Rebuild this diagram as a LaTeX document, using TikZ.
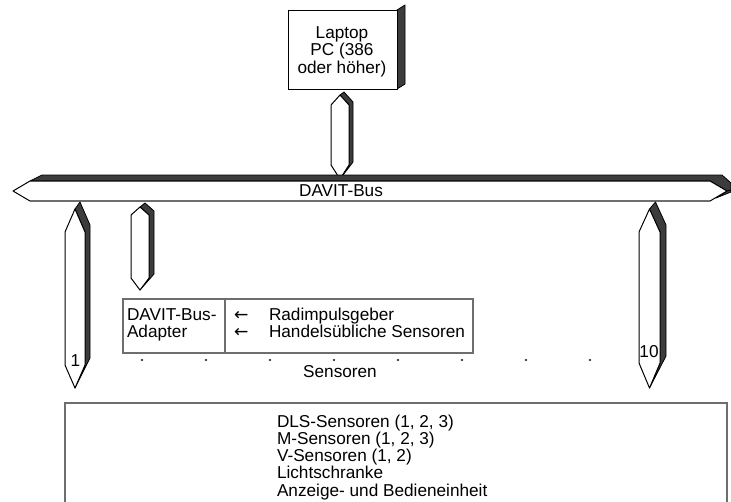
\documentclass[tikz,border=0pt]{standalone}
\usepackage{fontspec}
\setmainfont{Liberation Sans}
\newfontfamily\arrowfont{DejaVu Sans}
\usetikzlibrary{calc}
\definecolor{darkface}{HTML}{3C3C3C}
\definecolor{boxgray}{HTML}{6E6E6E}
\tikzset{
 pxfont/.style={font=\fontsize{12.9}{13.1}\selectfont, inner sep=0pt, outer sep=0pt},
 shade3d/.style={fill=darkface, draw=black, line width=0.6pt, line join=round},
 face3d/.style={fill=white, draw=black, line width=0.75pt, line join=round},
 frame/.style={draw=boxgray, line width=1.2pt},
 lbl/.style={pxfont, anchor=base west},
 ctr/.style={pxfont, anchor=center},
}
% #1 name, #2 xl, #3 xr, #4 ytop, #5 ybot, #6 htop, #7 hbot, #8 dx, #9 dy
\newcommand\pencil[9]{%
 \pgfmathsetmacro\pxc{(#2+#3)/2}%
 \coordinate (#1-A) at (\pxc,#4);
 \coordinate (#1-B) at (#3,#4+#6);
 \coordinate (#1-C) at (#3,#5-#7);
 \coordinate (#1-D) at (\pxc,#5);
 \coordinate (#1-E) at (#2,#5-#7);
 \coordinate (#1-F) at (#2,#4+#6);
 \draw[shade3d] (#1-A) -- ($(#1-A)+(#8,#9)$) -- ($(#1-B)+(#8,#9)$) -- ($(#1-C)+(#8,#9)$) -- (#1-D) -- (#1-C) -- (#1-B) -- cycle;
 \draw[face3d] (#1-A) -- (#1-B) -- (#1-C) -- (#1-D) -- (#1-E) -- (#1-F) -- cycle;
}
\begin{document}
\begin{tikzpicture}[x=0.75pt,y=-0.75pt]
\useasboundingbox (0,0) rectangle (731,501);
% Laptop box
\draw[shade3d] (397,10) -- (405,5) -- (405,84) -- (397,89) -- cycle;
\node[draw=black, line width=0.75pt, fill=white, minimum width=109*0.75pt, minimum height=79*0.75pt, inner sep=0pt, anchor=north west] (laptop) at (288,10) {};
\node[pxfont, align=center] (laptoptext) at (342,51.5) {Laptop\\PC (386\\oder höher)};
% laptop connector
\pencil{pl}{331}{349}{95}{179}{10}{14}{4}{-3}
% Bus
\draw[shade3d] (30,181) -- (42,175) -- (722,175) -- (731,183) -- (731,190) -- (727,191) -- (710,181) -- cycle;
\draw[shade3d] (727,191) -- (731,190) -- (731,192) -- (716,198) -- cycle;
\draw[face3d] (13,191) -- (30,181) -- (710,181) -- (727,191) -- (710,201) -- (30,201) -- cycle;
\draw[boxgray, line width=1.2pt] (30,201) -- (710,201);
\node[ctr] (bus) at (341,191) {DAVIT-Bus};
% sensor connectors
\pencil{p1}{65}{85}{209}{388}{23}{23}{5}{-7}
\pencil{p2}{131}{149}{207}{290}{8}{12}{5}{-4}
\pencil{p10}{639}{660}{209}{388}{23}{25}{6}{-7}
\node[ctr] (n1) at (75.5,361) {1};
\node[ctr] (n10) at (649,352) {10};
% Adapter box
\draw[frame] (123,299) rectangle (473,353);
\draw[frame] (225,299) -- (225,353);
\node[lbl] (ad1) at (127,320) {DAVIT-Bus-};
\node[lbl] (ad2) at (127,337) {Adapter};
\node[lbl] (ar1) at (234,320) {\arrowfont ←};
\node[lbl] (ar2) at (234,337) {\arrowfont ←};
\node[lbl] (rad) at (269,320) {Radimpulsgeber};
\node[lbl] (hand) at (269,337) {Handelsübliche Sensoren};
% dots
\foreach \i in {0,...,7} { \fill (142+64*\i,360) circle (1.1); }
\node[ctr] (sens) at (340,372) {Sensoren};
% bottom box
\draw[frame] (65,520) -- (65,403) -- (727,403) -- (727,520);
\node[lbl] (t1) at (277,427) {DLS-Sensoren (1, 2, 3)};
\node[lbl] (t2) at (277,444.3) {M-Sensoren (1, 2, 3)};
\node[lbl] (t3) at (277,461.6) {V-Sensoren (1, 2)};
\node[lbl] (t4) at (277,478.9) {Lichtschranke};
\node[lbl] (t5) at (277,496.2) {Anzeige- und Bedieneinheit};
\end{tikzpicture}
\end{document}
